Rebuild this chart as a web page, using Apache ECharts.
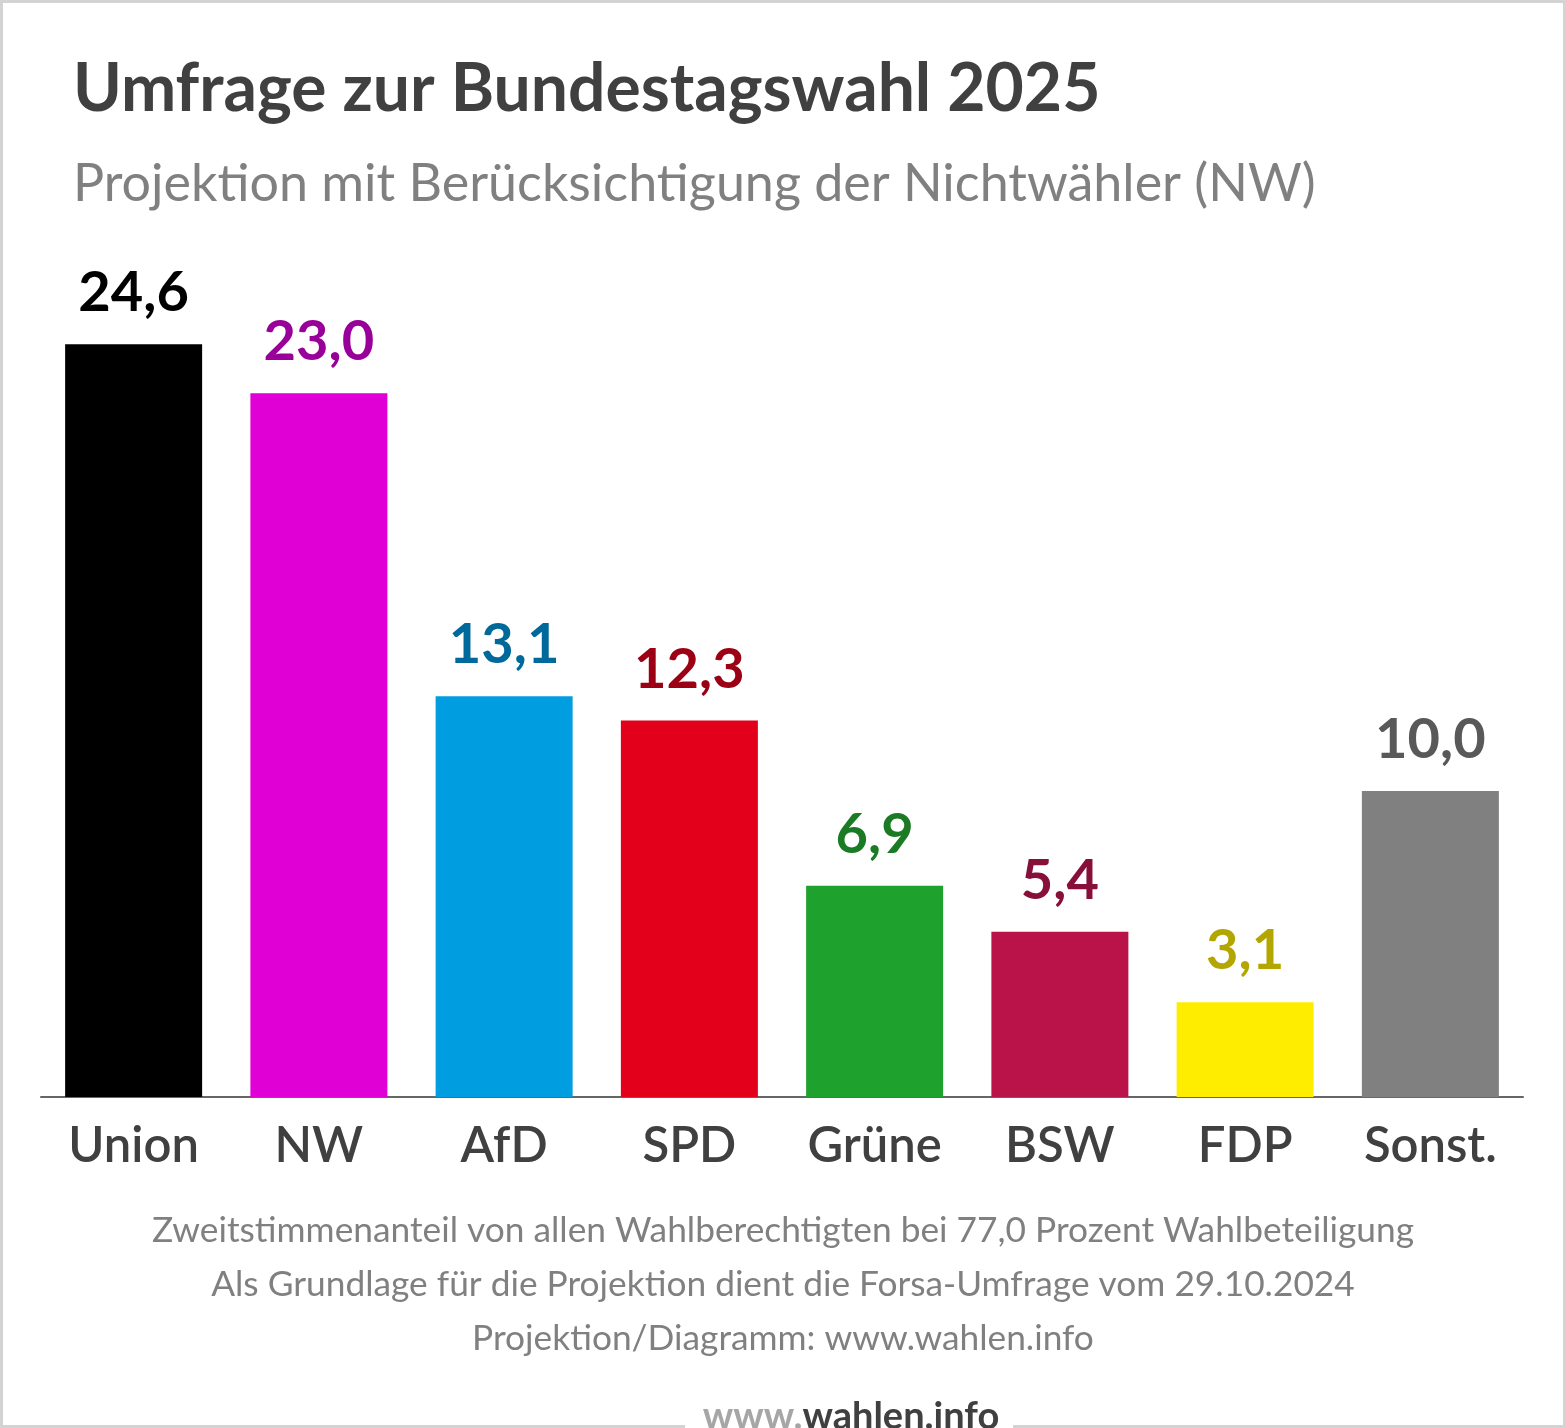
<!DOCTYPE html>
<html><head><meta charset="utf-8">
<script src="https://cdn.jsdelivr.net/npm/echarts@6/dist/echarts.min.js"></script>
<style>html,body{margin:0;padding:0;background:#fff}#c{width:1566px;height:1428px}</style>
</head><body><div id="c"></div>
<script>
const categories = ['Union','NW','AfD','SPD','Grüne','BSW','FDP','Sonst.'];
const values = [24.6, 23.0, 13.1, 12.3, 6.9, 5.4, 3.1, 10.0];
const barColors = ['#000000','#e000d5','#009ee0','#e2001a','#1ea12d','#b9134a','#ffed00','#808080'];
const labelColors = ['#000000','#990099','#00699c','#9b0014','#1b7a24','#86103a','#b3a600','#595959'];
const footerLines = [
  'Zweitstimmenanteil von allen Wahlberechtigten bei 77,0 Prozent Wahlbeteiligung',
  'Als Grundlage für die Projektion dient die Forsa-Umfrage vom 29.10.2024',
  'Projektion/Diagramm: www.wahlen.info'
];

const chart = echarts.init(document.getElementById('c'), null, {renderer:'canvas'});
const F = 'Lato, "Noto Sans", sans-serif';
chart.setOption({
  backgroundColor:'#ffffff',
  animation:false,
  title:{
    text:'Umfrage zur Bundestagswahl 2025',
    subtext:'Projektion mit Berücksichtigung der Nichtwähler (NW)',
    left:68, top:50, itemGap:30,
    textStyle:{fontFamily:F, fontWeight:'bold', fontSize:66, color:'#404040', lineHeight:70},
    subtextStyle:{fontFamily:F, fontWeight:'normal', fontSize:52, color:'#808080', lineHeight:58}
  },
  grid:{left:41, right:43, top:179, bottom:331, containLabel:false},
  xAxis:{
    type:'category', data:categories,
    axisLine:{show:true, lineStyle:{color:'#666666', width:2}},
    axisTick:{show:false},
    axisLabel:{fontFamily:F, fontSize:49, color:'#404040', margin:25, fontWeight:600}
  },
  yAxis:{type:'value', min:0, max:30, interval:5, show:false, splitLine:{show:false}},
  series:[{
    type:'bar', barWidth:137,
    data: values.map((v,i)=>({value:v, itemStyle:{color:barColors[i]},
      label:{color:labelColors[i]}})),
    label:{show:true, position:'top', distance:23, fontFamily:F, fontWeight:'bold', fontSize:56,
      formatter:p=>p.value.toFixed(1).replace('.',',')}
  }],
  graphic:[
    {type:'rect', shape:{x:1.5,y:1.5,width:1563,height:1425}, style:{fill:'none', stroke:'#d3d3d3', lineWidth:3}, z:0},
    {type:'rect', shape:{x:685,y:1418,width:328,height:10}, style:{fill:'#ffffff'}, z:1},
    ...footerLines.map((t,i)=>({type:'text', x:783, y:1231+54*i, z:2,
      style:{text:t, fill:'#808080', font:'35.3px Lato, sans-serif', textAlign:'center', textVerticalAlign:'middle'}})),
    {type:'text', x:851, y:1436, z:3,
      style:{text:'{a|www.}{b|wahlen.info}', textAlign:'center', textVerticalAlign:'bottom',
        rich:{a:{fill:'#a6a6a6', font:'bold 38px Lato, sans-serif'}, b:{fill:'#404040', font:'bold 38px Lato, sans-serif'}},
        font:'bold 38px Lato, sans-serif'}}
  ]
});
</script></body></html>
